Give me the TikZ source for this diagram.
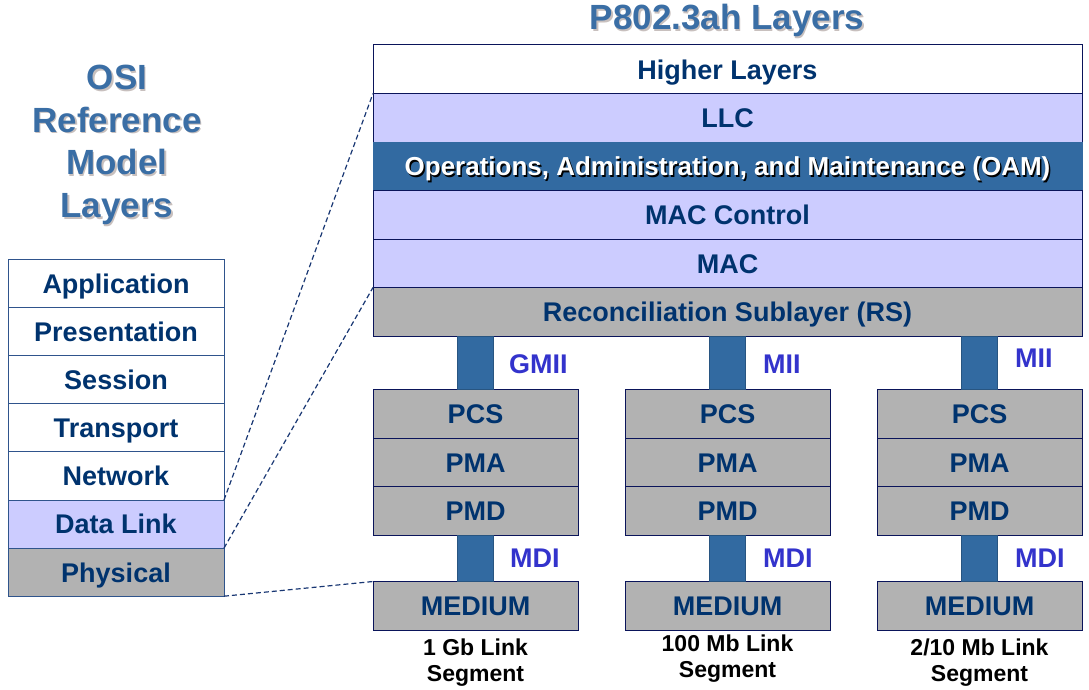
\documentclass[tikz,border=0pt]{standalone}
\usepackage{fontspec}
\setmainfont{Liberation Sans}
\usepackage{tikz}
\usepackage{xcolor}
\usetikzlibrary{positioning}
\definecolor{navy}{RGB}{0,51,110}
\definecolor{lav}{RGB}{204,204,255}
\definecolor{grey}{RGB}{178,178,178}
\definecolor{steel}{RGB}{50,106,161}
\definecolor{ttl}{RGB}{58,110,165}
\definecolor{shade}{RGB}{200,192,190}
\definecolor{ifc}{RGB}{51,51,204}
\definecolor{osiline}{RGB}{47,84,140}
\definecolor{rline}{RGB}{10,20,90}
\definecolor{dashc}{RGB}{25,55,115}

\begin{document}
\begin{tikzpicture}[x=1pt,y=-1pt,
  box/.style={draw=rline,line width=1pt,inner sep=0pt,outer sep=0pt,minimum height=48.5pt,text=navy,
    font=\bfseries\fontsize{27}{27}\selectfont,text height=19.7pt,text depth=0pt},
  wide/.style={box,minimum width=709pt},
  col/.style={box,minimum width=205pt,fill=grey},
  osi/.style={box,draw=osiline,minimum width=216pt,minimum height=48.1pt,fill=white},
  oamtxt/.style={inner sep=0pt,font=\bfseries\fontsize{26}{26}\selectfont,text height=19pt,text depth=0pt},
  stub/.style={fill=steel,draw=steel!80!black,line width=.6pt},
  ifclbl/.style={text=ifc,font=\bfseries\fontsize{27}{27}\selectfont,anchor=west,inner sep=0pt,text height=19.7pt,text depth=0pt},
  seg/.style={font=\bfseries\fontsize{23}{26}\selectfont,align=center,inner sep=0pt},
  title/.style={text=ttl,font=\bfseries\fontsize{35}{42.7}\selectfont,align=center,inner sep=0pt},
  zoomline/.style={draw=dashc,dash pattern=on 5pt off 3pt,line width=1.2pt}]
\useasboundingbox (0,0) rectangle (1089,690);
\node[title,text=shade,anchor=base] at (728.5,31.5) {P802.3ah Layers};
\node[title,anchor=base] (ptitle) at (727,30) {P802.3ah Layers};
\node[title,text=shade] at (118.5,146.5) {OSI\\Reference\\Model\\Layers};
\node[title] (osititle) at (117,145) {OSI\\Reference\\Model\\Layers};

\node[osi,anchor=north west] (app) at (8,259.5) {Application};
\node[osi,below=0pt of app] (pres) {Presentation};
\node[osi,below=0pt of pres] (sess) {Session};
\node[osi,below=0pt of sess] (trans) {Transport};
\node[osi,below=0pt of trans] (net) {Network};
\node[osi,fill=lav,below=0pt of net] (dl) {Data Link};
\node[osi,fill=grey,below=0pt of dl] (phy) {Physical};

\node[wide,fill=white,anchor=north west] (hl) at (373,45) {Higher Layers};
\node[wide,fill=lav,below=0pt of hl] (llc) {LLC};
\node[wide,fill=steel,draw=steel,below=0pt of llc] (oam) {};
\node[oamtxt,text=black] at ([shift={(1.5,1.5)}]oam.center) {Operations, Administration, and Maintenance (OAM)};
\node[oamtxt,text=white] (oamlbl) at (oam.center) {Operations, Administration, and Maintenance (OAM)};
\node[wide,fill=lav,below=0pt of oam] (macc) {MAC Control};
\node[wide,fill=lav,below=0pt of macc] (mac) {MAC};
\node[wide,fill=grey,below=0pt of mac] (rs) {Reconciliation Sublayer (RS)};

\node[col,anchor=north west] (pcs1) at (373,389.5) {PCS};
\node[col,below=0pt of pcs1] (pma1) {PMA};
\node[col,below=0pt of pma1] (pmd1) {PMD};
\node[col,anchor=north west] (med1) at (373,581.5) {MEDIUM};
\node[col,anchor=north west] (pcs2) at (625,389.5) {PCS};
\node[col,below=0pt of pcs2] (pma2) {PMA};
\node[col,below=0pt of pma2] (pmd2) {PMD};
\node[col,anchor=north west] (med2) at (625,581.5) {MEDIUM};
\node[col,anchor=north west] (pcs3) at (877,389.5) {PCS};
\node[col,below=0pt of pcs3] (pma3) {PMA};
\node[col,below=0pt of pma3] (pmd3) {PMD};
\node[col,anchor=north west] (med3) at (877,581.5) {MEDIUM};

\draw[stub] ([xshift=-18pt]pcs1.north) rectangle ([xshift=18pt]pcs1.north |- rs.south);
\draw[stub] ([xshift=-18pt]pcs2.north) rectangle ([xshift=18pt]pcs2.north |- rs.south);
\draw[stub] ([xshift=-18pt]pcs3.north) rectangle ([xshift=18pt]pcs3.north |- rs.south);
\draw[stub] ([xshift=-18pt]med1.north) rectangle ([xshift=18pt]pmd1.south);
\draw[stub] ([xshift=-18pt]med2.north) rectangle ([xshift=18pt]pmd2.south);
\draw[stub] ([xshift=-18pt]med3.north) rectangle ([xshift=18pt]pmd3.south);

\node[ifclbl] (gmii) at (509,364) {GMII};
\node[ifclbl] (mii2) at (763,364) {MII};
\node[ifclbl] (mii3) at (1015,358) {MII};
\node[ifclbl] (mdi1) at (510,558) {MDI};
\node[ifclbl] (mdi2) at (763,558) {MDI};
\node[ifclbl] (mdi3) at (1015,558) {MDI};

\node[seg,below=8.5pt of med1] (seg1) {1 Gb Link\\Segment};
\node[seg,below=4.5pt of med2] (seg2) {100 Mb Link\\Segment};
\node[seg,below=8.5pt of med3] (seg3) {2/10 Mb Link\\Segment};

\draw[zoomline] (net.south east) -- (llc.north west);
\draw[zoomline] (dl.south east) -- (mac.south west);
\draw[zoomline] (phy.south east) -- (med1.north west);
\end{tikzpicture}
\end{document}
